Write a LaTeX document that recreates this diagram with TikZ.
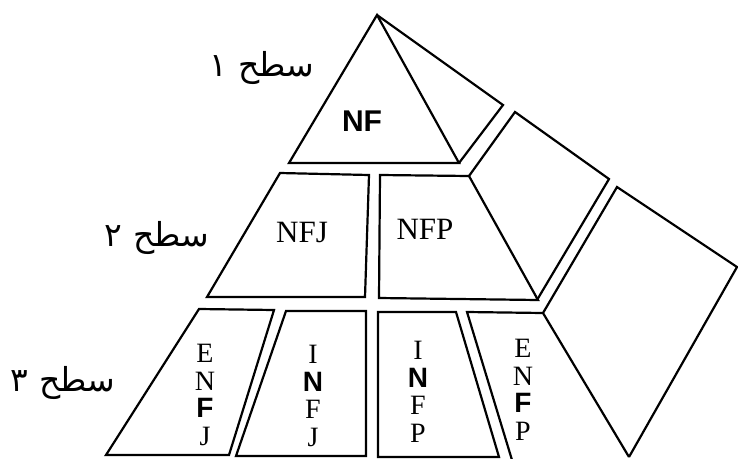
\documentclass[tikz,border=0pt]{standalone}
\usepackage{fontspec}
\setmainfont{Liberation Serif}
\newfontfamily\sansb{Liberation Sans}
\newfontfamily\arabicfont[Script=Arabic]{DejaVu Sans}
\TeXXeTstate=1
\begin{document}
\begin{tikzpicture}[x=1pt,y=-1pt,
  face/.style={draw=black,line width=2.2pt,line join=miter},
  lbl/.style={inner sep=0pt,font=\fontsize{31}{31}\selectfont},
  col/.style={inner sep=0pt,align=center,font=\fontsize{28}{27.6}\selectfont},
  lvl/.style={inner sep=0pt,font=\arabicfont\fontsize{33}{33}\selectfont}]
\useasboundingbox (0,0) rectangle (738,458);
% top
\draw[face] (377,15) -- (289,163) -- (459,163) -- cycle;
\draw[face] (377,15) -- (503,105) -- (459,163);
% row 2
\draw[face] (280,173) -- (369,175) -- (365,297) -- (207,297) -- cycle;
\draw[face] (380,175) -- (469,176) -- (538,300) -- (379,298) -- cycle;
\draw[face] (469,176) -- (515,112) -- (609,179) -- (537,300);
% row 3
\draw[face] (199,309) -- (274,310) -- (229,455) -- (106,455) -- cycle;
\draw[face] (286,311) -- (366,311) -- (366,456) -- (236,456) -- cycle;
\draw[face] (378,312) -- (456,312) -- (499,457) -- (378,457) -- cycle;
\draw[face] (512,460) -- (467,312) -- (543,313) -- (629,457);
\draw[face] (543,313) -- (617,187) -- (737,267) -- (629,457);
% labels
\node[lbl,font=\sansb\bfseries\fontsize{30}{30}\selectfont] (nf) at (362,121) {NF};
\node[lbl] (nfj) at (302,232) {NFJ};
\node[lbl] (nfp) at (425,229) {NFP};
\node[col] (enfj) at (205,395) {E\\N\\{\sansb\bfseries F}\\J};
\node[col] (infj) at (313,396) {I\\{\sansb\bfseries N}\\F\\J};
\node[col] (infp) at (418,392) {I\\{\sansb\bfseries N}\\F\\P};
\node[col] (enfp) at (523,390) {E\\N\\{\sansb\bfseries F}\\P};
\node[lvl] (l1) at (262,68) {\beginR سطح ١\endR};
\node[lvl] (l2) at (157,238) {\beginR سطح ٢\endR};
\node[lvl] (l3) at (63,383) {\beginR سطح ٣\endR};
\end{tikzpicture}
\end{document}
